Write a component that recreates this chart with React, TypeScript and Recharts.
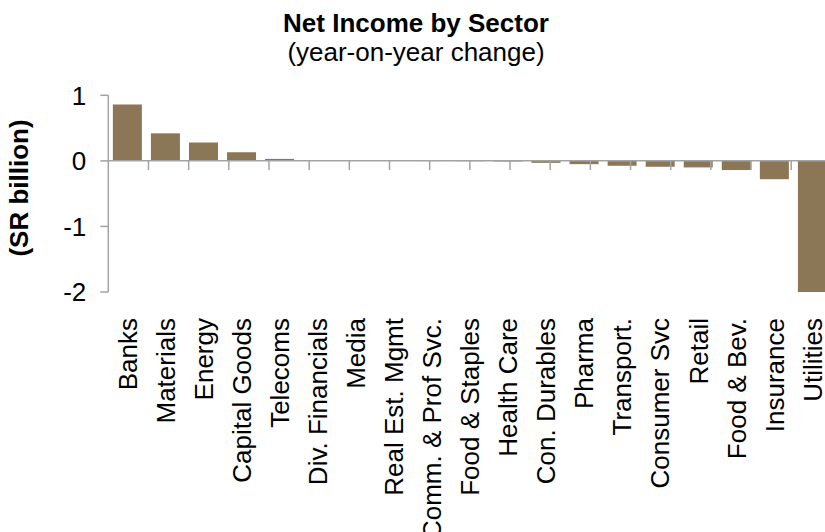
import { BarChart, Bar, XAxis, YAxis, ReferenceLine } from 'recharts';

const SECTORS = [
  'Banks',
  'Materials',
  'Energy',
  'Capital Goods',
  'Telecoms',
  'Div. Financials',
  'Media',
  'Real Est. Mgmt',
  'Comm. & Prof Svc.',
  'Food & Staples',
  'Health Care',
  'Con. Durables',
  'Pharma',
  'Transport.',
  'Consumer Svc',
  'Retail',
  'Food & Bev.',
  'Insurance',
  'Utilities',
];

const CHANGE = [
  0.86, 0.42, 0.28, 0.13, 0.03, 0.005, 0, 0.002, -0.003, -0.005, -0.01, -0.03, -0.05, -0.075,
  -0.09, -0.1, -0.14, -0.28, -2.0,
];

const Y_TICKS = [-2, -1, 0, 1];

const FONT = '"Liberation Sans", Arial, Helvetica, sans-serif';
const AXIS_GREY = '#a3a3a3';
const BAR_BROWN = '#8b7755';

const data = SECTORS.map((sector, i) => ({ sector, value: CHANGE[i] }));
// category boundaries for the little tick marks on the zero line
const edges = SECTORS.slice(1).map((_, i) => i + 1);

const SectorTick = ({ x, y, payload }: any) => {
  const ty = y + 26;
  return (
    <text
      x={x}
      y={ty}
      transform={`rotate(-90 ${x} ${ty})`}
      textAnchor="end"
      dy="0.36em"
      fontSize={26}
      fontFamily={FONT}
      fill="#000"
    >
      {payload.value}
    </text>
  );
};

export default function App() {
  return (
    <div
      style={{
        position: 'fixed',
        left: 0,
        top: 0,
        width: 825,
        height: 532,
        overflow: 'hidden',
        background: '#fff',
      }}
    >
      <BarChart
        width={850}
        height={532}
        data={data}
        margin={{ top: 95.3, right: 18.6, left: 0, bottom: 0 }}
        barCategoryGap="12%"
      >
        <XAxis
          dataKey="sector"
          interval={0}
          axisLine={false}
          tickLine={false}
          tickSize={0}
          tickMargin={0}
          height={240}
          tick={<SectorTick />}
        />
        <XAxis xAxisId="edges" type="number" domain={[0, SECTORS.length]} allowDataOverflow hide />
        <YAxis
          domain={[-2, 1]}
          ticks={Y_TICKS}
          width={108.3}
          axisLine={{ stroke: AXIS_GREY, strokeWidth: 1.5 }}
          tickLine={{ stroke: AXIS_GREY, strokeWidth: 1.5 }}
          tickSize={8}
          tickMargin={14}
          tick={{ fontSize: 26, fill: '#000', fontFamily: FONT }}
        />
        <Bar dataKey="value" fill={BAR_BROWN} isAnimationActive={false} />
        <ReferenceLine y={0} stroke={AXIS_GREY} strokeWidth={1.5} />
        {edges.map((e) => (
          <ReferenceLine
            key={e}
            xAxisId="edges"
            segment={[
              { x: e, y: 0 },
              { x: e, y: -0.14 },
            ]}
            stroke={AXIS_GREY}
            strokeWidth={1.5}
          />
        ))}
      </BarChart>
      <svg
        width={825}
        height={532}
        style={{ position: 'absolute', left: 0, top: 0, pointerEvents: 'none' }}
      >
        <text x={416} y={31.7} textAnchor="middle" fontSize={26} fontWeight="bold" fontFamily={FONT}>
          Net Income by Sector
        </text>
        <text x={416} y={61} textAnchor="middle" fontSize={26} fontFamily={FONT}>
          (year-on-year change)
        </text>
        <text
          x={27.5}
          y={188}
          transform="rotate(-90 27.5 188)"
          textAnchor="middle"
          fontSize={26}
          fontWeight="bold"
          fontFamily={FONT}
        >
          (SR billion)
        </text>
      </svg>
    </div>
  );
}
